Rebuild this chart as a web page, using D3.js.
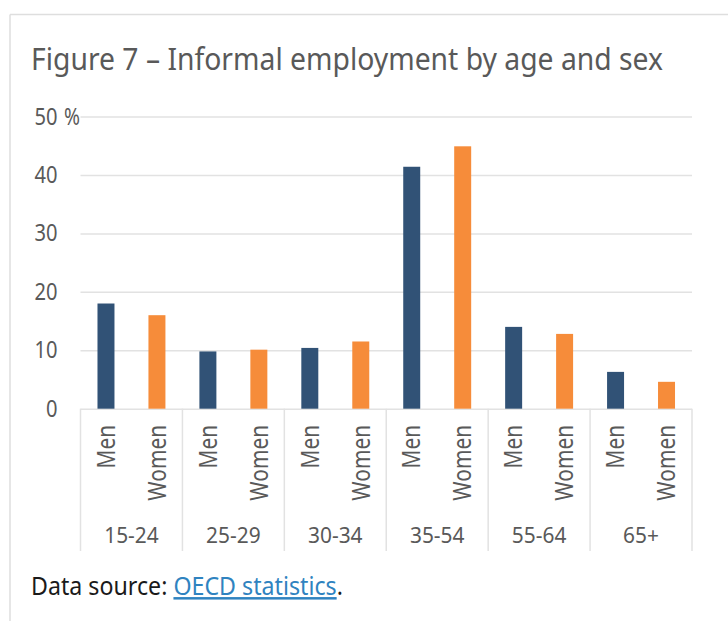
<!DOCTYPE html>
<html>
<head>
<meta charset="utf-8">
<script src="https://cdn.jsdelivr.net/npm/d3@7"></script>
<style>
  html, body { margin: 0; padding: 0; background: #fff; }
  svg { display: block; }
  text { font-family: "Noto Sans", "Open Sans", sans-serif; }
</style>
</head>
<body>
<svg id="chart" width="728" height="621"></svg>
<script>
// Informal employment share (%) by age group and sex
const ageGroups = ["15-24", "25-29", "30-34", "35-54", "55-64", "65+"];
const sexes = ["Men", "Women"];
const menValues = [18.0, 9.8, 10.4, 41.4, 14.0, 6.3];
const womenValues = [16.0, 10.1, 11.5, 44.9, 12.8, 4.6];
const yTicks = [0, 10, 20, 30, 40, 50];
const sexColors = ["#315276", "#f68c3a"];

const titleText = "Figure 7 \u2013 Informal employment by age and sex";
const sourceLabel = "Data source: ";
const sourceLink = "OECD statistics";

const rows = ageGroups.map((g, i) => ({
  group: g,
  values: [
    { sex: sexes[0], value: menValues[i] },
    { sex: sexes[1], value: womenValues[i] }
  ]
}));

const svg = d3.select("#chart");
const gridColor = "#e2e2e2";
const textGray = "#595959";

// squeeze a text element to a width (keeps the narrow, humanist look)
function squeeze(sel, factor) {
  sel.each(function () {
    const w = this.getComputedTextLength();
    d3.select(this).attr("textLength", w * factor).attr("lengthAdjust", "spacingAndGlyphs");
  });
}
function fitTo(sel, width) {
  sel.attr("textLength", width).attr("lengthAdjust", "spacingAndGlyphs");
}

// panel frame (top and left edges)
svg.append("line").attr("x1", 10).attr("x2", 728).attr("y1", 14.5).attr("y2", 14.5)
  .attr("stroke", "#dedede").attr("stroke-width", 1.5);
svg.append("line").attr("x1", 10).attr("x2", 10).attr("y1", 14.5).attr("y2", 621)
  .attr("stroke", "#dedede").attr("stroke-width", 1.5);

// title
svg.append("text")
  .attr("x", 31).attr("y", 70)
  .attr("font-size", 30).attr("fill", textGray)
  .text(titleText)
  .call(fitTo, 632);

const plot = { left: 80.5, right: 692, top: 116.5, bottom: 408.7 };

const x = d3.scaleBand().domain(ageGroups).range([plot.left, plot.right]).padding(0);
const xSub = d3.scaleBand().domain(sexes).range([0, x.bandwidth()])
  .paddingInner(2 / 3).paddingOuter(1 / 3);
const y = d3.scaleLinear().domain([0, 50]).range([plot.bottom, plot.top]);
const color = d3.scaleOrdinal().domain(sexes).range(sexColors);

// gridlines + y labels
const yAxis = svg.append("g")
  .attr("transform", `translate(${plot.left},0)`)
  .call(d3.axisLeft(y).tickValues(yTicks).tickSize(-(plot.right - plot.left)).tickPadding(23).tickFormat(d3.format("d")));
yAxis.select(".domain").remove();
yAxis.selectAll(".tick line").attr("stroke", gridColor).attr("stroke-width", 1.5);
yAxis.selectAll(".tick text")
  .attr("font-size", 23.4).attr("fill", textGray)
  .attr("font-family", "\"Noto Sans\", sans-serif")
  .call(squeeze, 0.86);
// percent sign after the top tick
yAxis.selectAll(".tick").filter(d => d === 50).append("text")
  .attr("x", -16.5).attr("dy", "0.32em")
  .attr("text-anchor", "start")
  .attr("font-size", 23.4).attr("fill", textGray)
  .attr("font-family", "\"Noto Sans\", sans-serif")
  .text("%")
  .call(fitTo, 16);

// category box lines below the plot
const boxBottom = 551;
const bounds = ageGroups.map(g => x(g)).concat([plot.right]);
svg.append("g").selectAll("line").data(bounds).join("line")
  .attr("x1", d => d).attr("x2", d => d)
  .attr("y1", plot.bottom).attr("y2", boxBottom)
  .attr("stroke", gridColor).attr("stroke-width", 1.5);

// bars
const groups = svg.append("g").selectAll("g").data(rows).join("g")
  .attr("transform", d => `translate(${x(d.group)},0)`);
groups.selectAll("rect").data(d => d.values).join("rect")
  .attr("x", d => xSub(d.sex))
  .attr("width", xSub.bandwidth())
  .attr("y", d => y(d.value))
  .attr("height", d => y(0) - y(d.value))
  .attr("fill", d => color(d.sex));

// rotated sex labels
const subFont = 24.5;
groups.selectAll("text.sex").data(d => d.values).join("text")
  .attr("class", "sex")
  .attr("transform", d => `translate(${xSub(d.sex) + xSub.bandwidth() / 2 + subFont * 0.357},425) rotate(-90)`)
  .attr("text-anchor", "end")
  .attr("font-size", subFont).attr("fill", textGray)
  .text(d => d.sex)
  .call(squeeze, 0.85);

// age group labels
svg.append("g").selectAll("text").data(ageGroups).join("text")
  .attr("x", d => x(d) + x.bandwidth() / 2)
  .attr("y", 543.3)
  .attr("text-anchor", "middle")
  .attr("font-size", 22).attr("fill", textGray)
  .text(d => d)
  .call(squeeze, 0.95);

// source line: one text run with an underlined link, narrowed by a horizontal scale
const srcGroup = svg.append("g");
const src = srcGroup.append("text")
  .attr("x", 0).attr("y", 0)
  .attr("font-size", 25).attr("fill", "#1a1a1a");
src.append("tspan").text(sourceLabel);
src.append("tspan").attr("fill", "#2f83c0").attr("text-decoration", "underline").text(sourceLink);
src.append("tspan").text(".");
const srcScale = 312 / src.node().getComputedTextLength();
srcGroup.attr("transform", `translate(31,595) scale(${srcScale},1)`);
</script>
</body>
</html>
